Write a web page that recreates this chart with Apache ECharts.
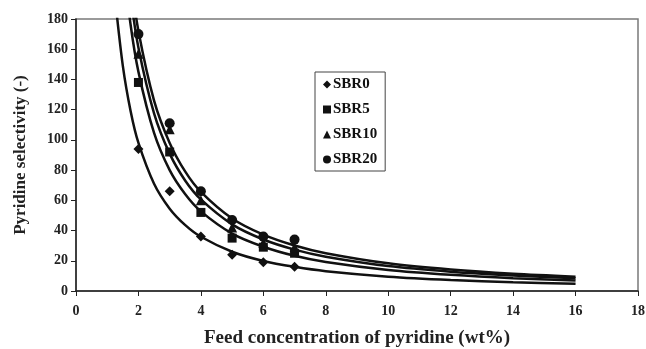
<!DOCTYPE html>
<html>
<head>
<meta charset="utf-8">
<script src="https://cdn.jsdelivr.net/npm/echarts@6/dist/echarts.min.js"></script>
<style>
  html, body { margin: 0; padding: 0; background: #fff; }
  #main { width: 646px; height: 349px; }
</style>
</head>
<body>
<div id="main"></div>
<script>
// measured points
var xPts = [2, 3, 4, 5, 6, 7];
var sbr0 = [94, 66, 36, 24, 19, 16];
var sbr5 = [138, 92, 52, 35, 29, 25];
var sbr10 = [157, 107, 60, 42, 32, 29];
var sbr20 = [170, 111, 66, 47, 36, 34];

// fitted curves
var xFit = [1.25, 1.5, 1.75, 2, 2.5, 3, 3.5, 4, 5, 6, 7, 8, 10, 12, 14, 16];
var fit0 = [194, 149, 119, 98, 71, 54.5, 43.6, 35.9, 26, 19.9, 16, 13.1, 9.5, 7.3, 5.8, 4.8];
var fit5 = [300, 220, 176, 145, 104.6, 80, 64, 52.7, 38, 29.3, 23.3, 19.2, 13.9, 10.7, 8.5, 7.0];
var fit10 = [310, 242, 195, 161, 117.6, 90.9, 73, 60.6, 44.1, 34.1, 27.4, 22.7, 16.5, 12.8, 10.3, 8.5];
var fit20 = [330, 257, 208, 172, 126, 98, 79, 65.6, 48, 37.3, 30.1, 25, 18.3, 14.2, 11.4, 9.5];

var names = ['SBR0', 'SBR5', 'SBR10', 'SBR20'];
var symbols = ['diamond', 'rect', 'triangle', 'circle'];
var sizes = [10, 9, 10, 10];
var pts = [sbr0, sbr5, sbr10, sbr20];
var fits = [fit0, fit5, fit10, fit20];

function pairs(xs, ys) {
    return xs.map(function (x, i) { return [x, ys[i]]; });
}

var series = [];
for (var i = 0; i < 4; i++) {
    series.push({
        name: 'fit' + i,
        type: 'line',
        data: pairs(xFit, fits[i]),
        smooth: 0.3,
        showSymbol: false,
        clip: true,
        lineStyle: { color: '#111', width: 2.5 },
        silent: true,
        z: 2
    });
}
for (var j = 0; j < 4; j++) {
    series.push({
        name: names[j],
        type: 'scatter',
        data: pairs(xPts, pts[j]),
        symbol: symbols[j],
        symbolSize: sizes[j],
        itemStyle: { color: '#111', opacity: 1 },
        z: 3
    });
}

var font = 'Liberation Serif';
var myChart = echarts.init(document.getElementById('main'));
myChart.setOption({
    backgroundColor: '#fff',
    animation: false,
    grid: {
        left: 76, right: 8, top: 19, bottom: 58,
        outerBoundsMode: 'none',
        containLabel: false,
        show: true, borderColor: '#7a7a7a', borderWidth: 1.5
    },
    legend: {
        data: names,
        orient: 'vertical',
        left: 315, top: 72,
        width: 73,
        padding: [5, 8, 4, 8],
        itemGap: 10,
        itemWidth: 8, itemHeight: 8,
        borderColor: '#444', borderWidth: 1,
        textStyle: { fontFamily: font, fontWeight: 'bold', fontSize: 15, color: '#111', padding: [0, 0, 0, -3] }
    },
    xAxis: {
        type: 'value',
        min: 0, max: 18, interval: 2,
        name: 'Feed concentration of pyridine (wt%)',
        nameLocation: 'middle',
        nameGap: 38,
        nameTextStyle: { fontFamily: font, fontWeight: 'bold', fontSize: 19, color: '#222' },
        axisLine: { lineStyle: { color: '#222', width: 1.5 } },
        axisTick: { length: 5, lineStyle: { color: '#222' } },
        axisLabel: { fontFamily: font, fontWeight: 'bold', fontSize: 14, color: '#222', margin: 13 },
        splitLine: { show: false }
    },
    yAxis: {
        type: 'value',
        min: 0, max: 180, interval: 20,
        name: 'Pyridine selectivity (-)',
        nameLocation: 'middle',
        nameGap: 47,
        nameTextStyle: { fontFamily: font, fontWeight: 'bold', fontSize: 17, color: '#222' },
        axisLine: { show: true, lineStyle: { color: '#222', width: 1.5 } },
        axisTick: { show: true, length: 5, lineStyle: { color: '#222' } },
        axisLabel: { fontFamily: font, fontWeight: 'bold', fontSize: 14, color: '#222', margin: 8 },
        splitLine: { show: false }
    },
    series: series
});
</script>
</body>
</html>
